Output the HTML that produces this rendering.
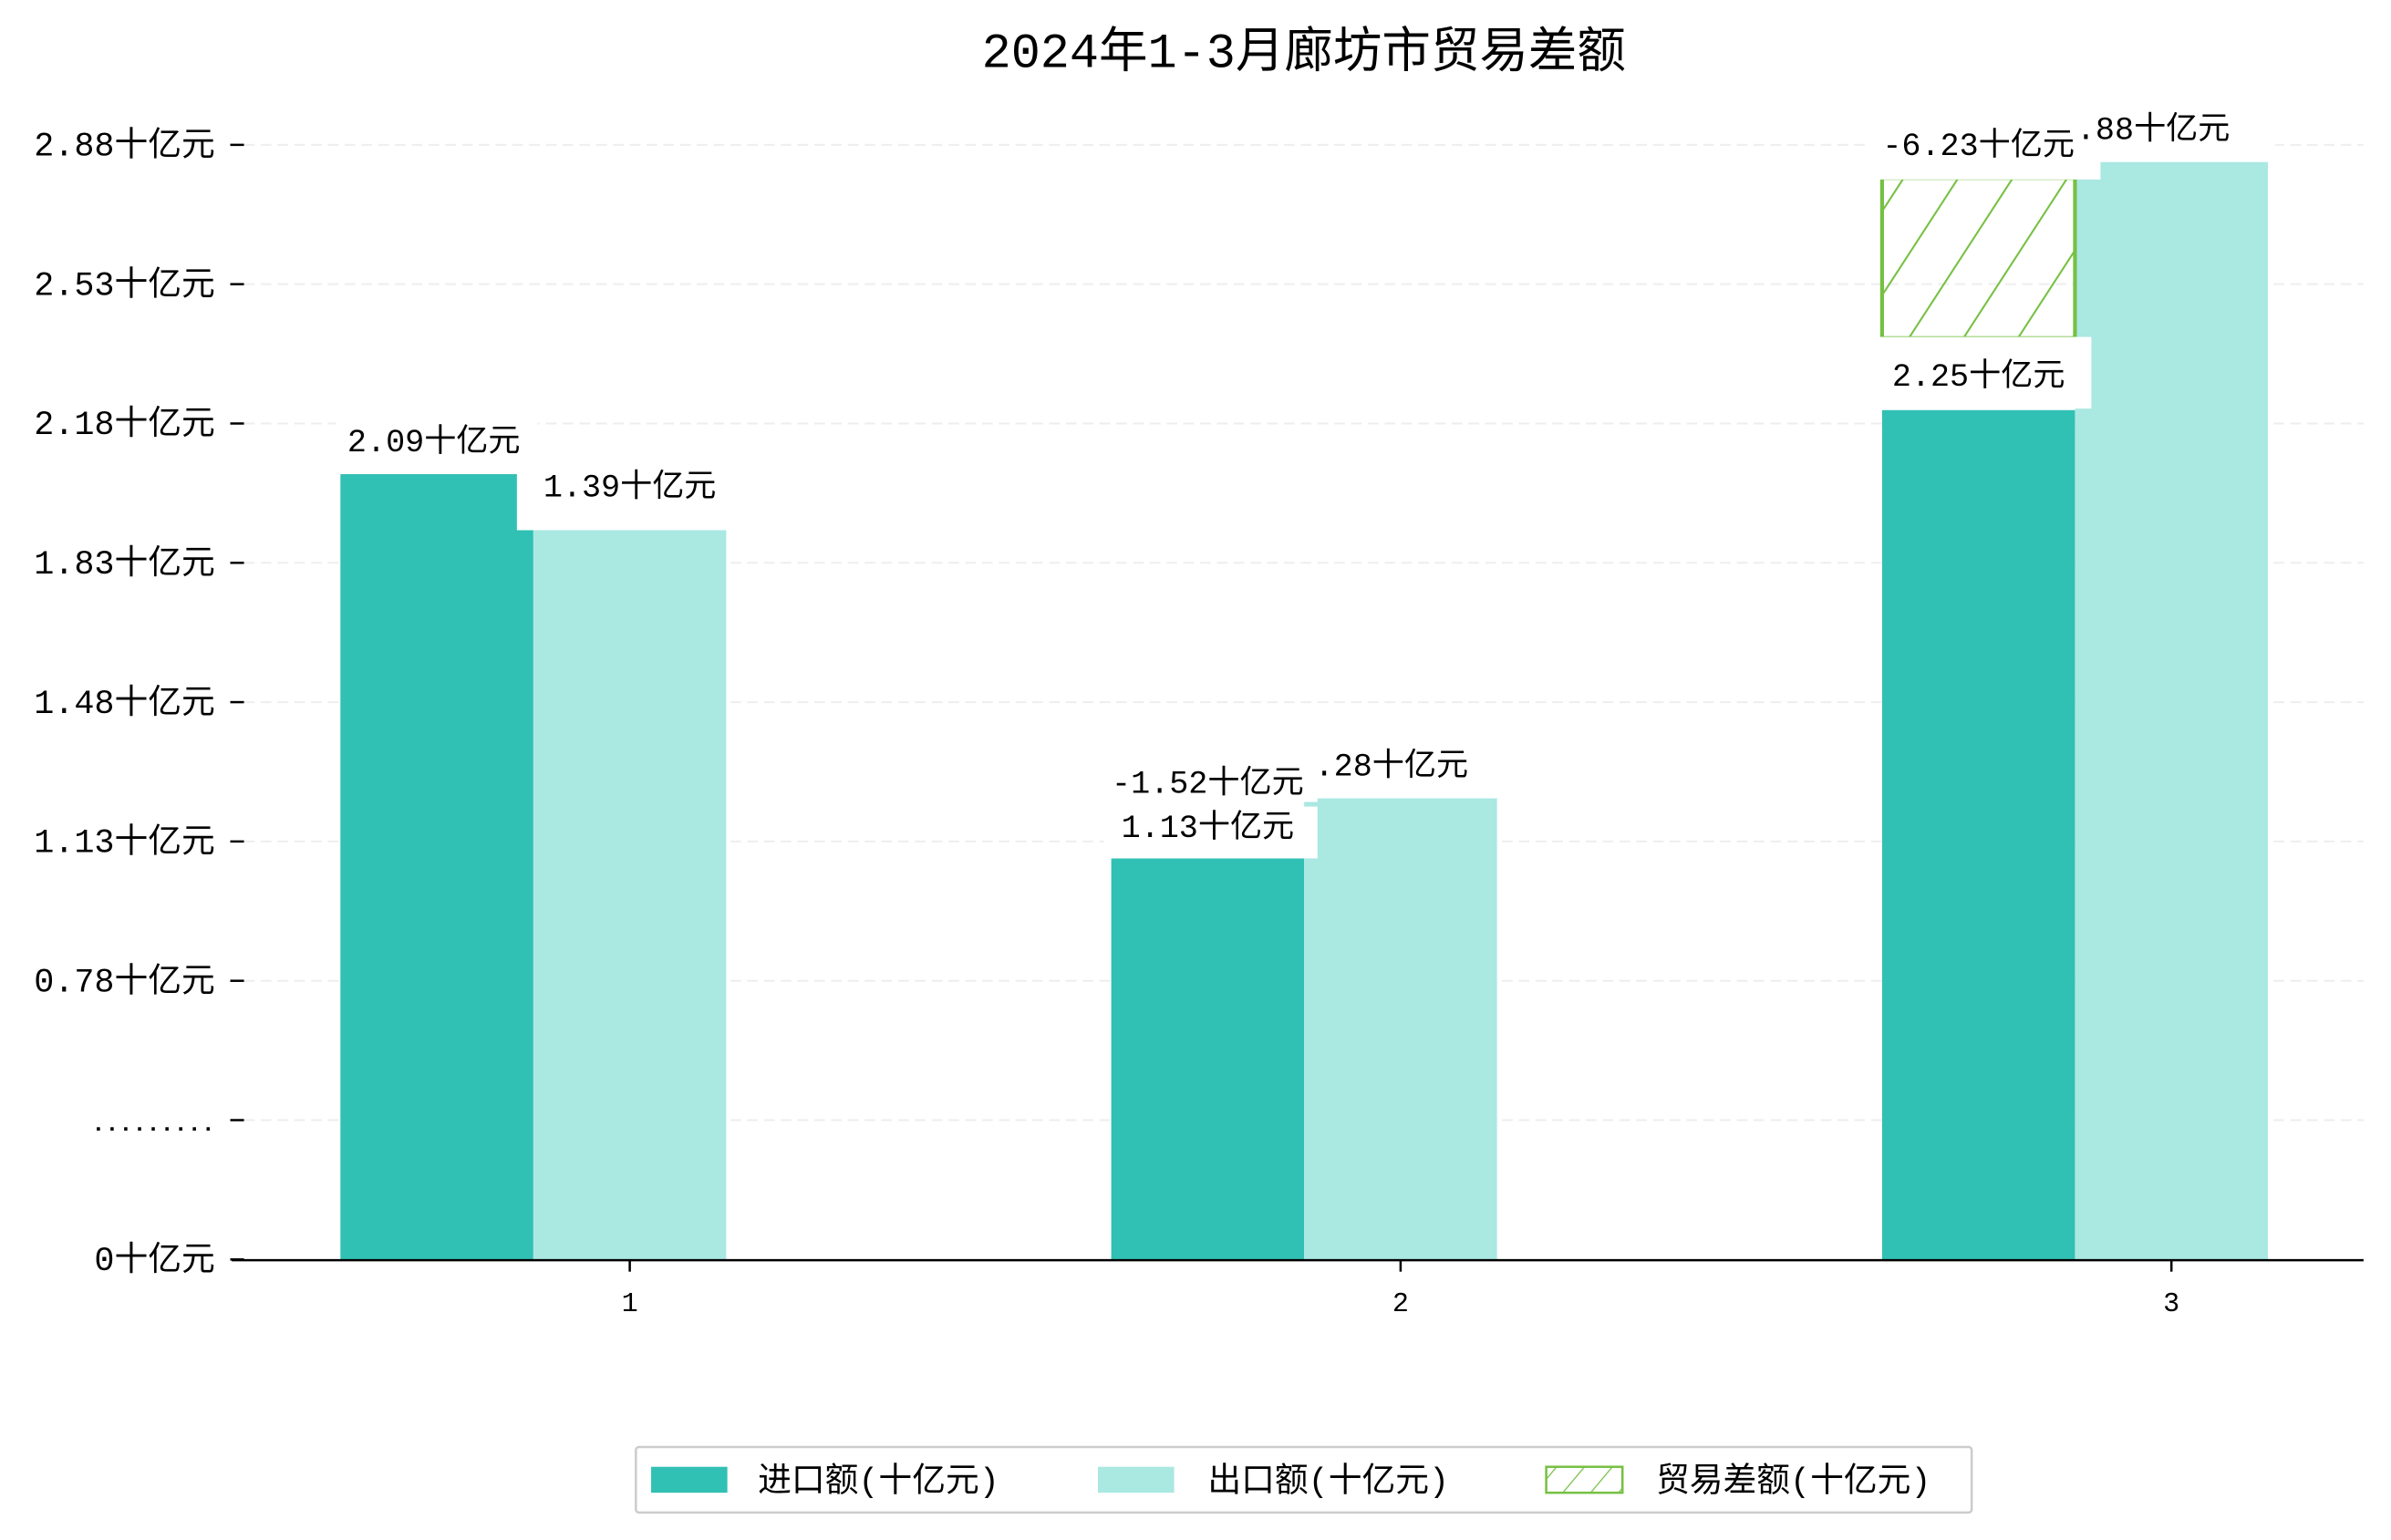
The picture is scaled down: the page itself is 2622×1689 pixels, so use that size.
<!DOCTYPE html>
<html><head><meta charset="utf-8"><style>
html,body{margin:0;padding:0;background:#fff;}
svg{display:block;}
text{font-family:"Liberation Mono","Noto Sans CJK SC",monospace;fill:#000;}
</style></head><body>
<svg id="chart" width="2622" height="1689" viewBox="0 0 1568 1010" preserveAspectRatio="none" xmlns="http://www.w3.org/2000/svg">
<defs>
<pattern id="hatch" patternUnits="userSpaceOnUse" width="30" height="30" patternTransform="rotate(33)">
<line x1="0" y1="0" x2="0" y2="30" stroke="#76c043" stroke-width="2.5"/>
</pattern>
<pattern id="hatch2" patternUnits="userSpaceOnUse" width="14" height="14" patternTransform="rotate(40)">
<line x1="0" y1="0" x2="0" y2="14" stroke="#76c043" stroke-width="1.5"/>
</pattern>
</defs>
<text x="855" y="44" font-size="32" text-anchor="middle">2024年1-3月廊坊市贸易差额</text>
<g id="grid"></g><g id="bars"></g><g id="labels"></g>
<line x1="152" y1="826.5" x2="1550" y2="826.5" stroke="#000" stroke-width="1.5"/>
<g>
<rect x="417" y="949" width="876" height="43" fill="#fff" stroke="#ccc" stroke-width="1.5" rx="2"/>
<rect x="427" y="962" width="50" height="17" fill="#31c0b4"/>
<text x="497" y="978" font-size="22">进口额(十亿元)</text>
<rect x="720" y="962" width="50" height="17" fill="#aae8e2"/>
<text x="792" y="978" font-size="22">出口额(十亿元)</text>
<rect x="1014" y="962" width="50" height="17" fill="url(#hatch2)" stroke="#76c043" stroke-width="1.5"/>
<text x="1086" y="978" font-size="22">贸易差额(十亿元)</text>
</g>
</svg>
<script>
const months=['1','2','3'];
const importValues=[2.09,1.13,2.25];
const exportValues=[1.95,1.28,2.87];
const importLabels=['2.09十亿元','1.13十亿元','2.25十亿元'];
const exportLabels=['1.39十亿元','.28十亿元','.88十亿元'];
const balanceLow=[null,null,2.43];
const balanceHigh=[null,null,2.83];
const balanceLabels=['','-1.52十亿元','-6.23十亿元'];
const tickLabels=['0十亿元','.........','0.78十亿元','1.13十亿元','1.48十亿元','1.83十亿元','2.18十亿元','2.53十亿元','2.88十亿元'];

const NS='http://www.w3.org/2000/svg';
const base=826, slope=262.5, off=0.128;
function yScale(v){return base-(v-off)*slope;}
function tickY(i){return 826-i*91.375;}
function xCenter(i){return 413+i*505.5;}
const bw=126.5;
function mk(tag,attrs,parent){const e=document.createElementNS(NS,tag);for(const k in attrs)e.setAttribute(k,attrs[k]);parent.appendChild(e);return e;}
const grid=document.getElementById('grid'),bars=document.getElementById('bars'),labels=document.getElementById('labels');

tickLabels.forEach((t,i)=>{
  const y=tickY(i);
  if(i>0){const g=mk('line',{x1:160,y1:y,x2:1550,y2:y,stroke:'#eee','stroke-width':1.2,'stroke-dasharray':'7,4'},grid);
  
  }
  const tk=mk('line',{x1:151,y1:y,x2:160,y2:y,stroke:'#000','stroke-width':1.5},grid);
  
  
  const isDots=t.indexOf('十')<0;
  const tx=mk('text',{x:141,y:y+7,'font-size':isDots?15:22,'font-weight':isDots?'bold':'normal','text-anchor':'end'},grid);
  tx.textContent=t;
  
  
});

function label(txt,cx,cy,bx,by,bwid,bh,name){
  const r=mk('rect',{x:bx,y:by,width:bwid,height:bh,fill:'#fff'},labels);
  
  
  const t=mk('text',{x:cx,y:cy,'font-size':21,'text-anchor':'middle'},labels);
  t.textContent=txt;
  
  
}

months.forEach((m,i)=>{
  const c=xCenter(i);
  const yi=yScale(importValues[i]), ye=yScale(exportValues[i]);
  const ri=mk('rect',{x:c-1.5*bw,y:yi,width:bw,height:base-yi,fill:'#31c0b4'},bars);
  
  
  const re=mk('rect',{x:c-0.5*bw,y:ye,width:bw,height:base-ye,fill:'#aae8e2'},bars);
  
  
  if(balanceLow[i]!==null){
    const yt=yScale(balanceHigh[i]), yb=yScale(balanceLow[i]);
    const rb=mk('rect',{x:c-1.5*bw,y:yt,width:bw,height:yb-yt,fill:'url(#hatch)',stroke:'#76c043','stroke-width':2.5},bars);
    
    
  }
  const xt=mk('line',{x1:c,y1:827,x2:c,y2:834,stroke:'#000','stroke-width':1.5},bars);
  
  
  const xl=mk('text',{x:c,y:860,'font-size':18,'text-anchor':'middle'},bars);
  xl.textContent=m;
  
  

  const ci=c-bw, ce=c;
  if(i===0){
    label(importLabels[i],ci-2,yi-15,ci-66,yi-40,132,38,'import-value-label-'+m);
    label(exportLabels[i],ce,ye-22,ce-74,ye-44,137,44,'export-value-label-'+m);
  } else if(i===1){
    label(importLabels[i],ci,yi-14,ci-68,yi-34,140,34,'import-value-label-'+m);
    label(balanceLabels[i],ci,yi-43,ci-68,yi-65,140,28,'balance-value-label-'+m);
    label(exportLabels[i],ce-6,ye-15,ce-52,ye-38,120,30,'export-value-label-'+m);
  } else {
    label(importLabels[i],ci,yi-16,ci-68,yi-48,142,47,'import-value-label-'+m);
    const yt=yScale(balanceHigh[i]);
    label(balanceLabels[i],ci,yt-15,ci-72,yt-40,152,41,'balance-value-label-'+m);
    label(exportLabels[i],ce-12,ye-15,ce-47,ye-36,115,36,'export-value-label-'+m);
  }
});
</script>
</body></html>
